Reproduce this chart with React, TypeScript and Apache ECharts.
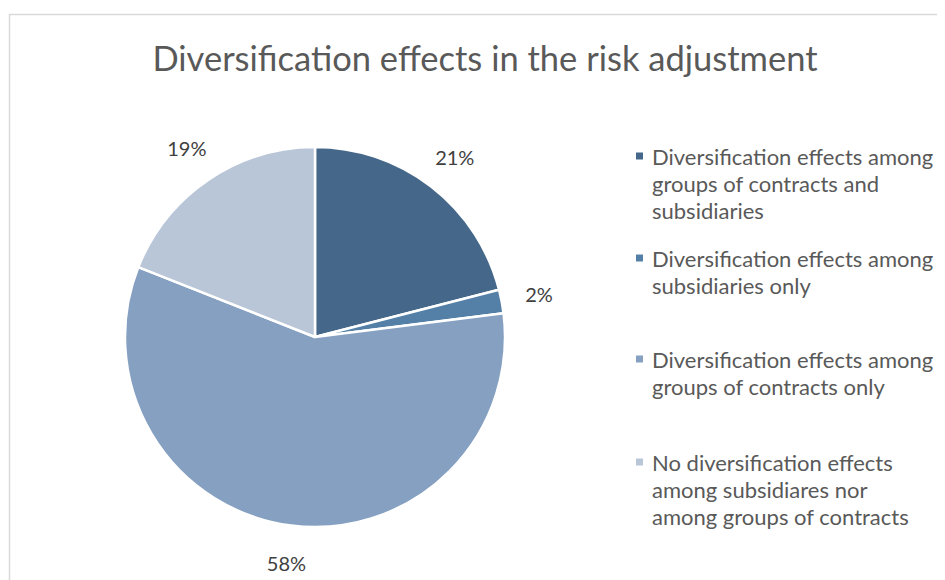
import React, { useEffect, useRef } from "react";
import * as echarts from "echarts";

const titleText = "Diversification effects in the risk adjustment";
const categories = [
  "Diversification effects among\ngroups of contracts and\nsubsidiaries",
  "Diversification effects among\nsubsidiaries only",
  "Diversification effects among\ngroups of contracts only",
  "No diversification effects\namong subsidiares nor\namong groups of contracts",
];
const values = [21, 2, 58, 19];
const colors = ["#45678a", "#5480a8", "#86a0c2", "#b9c6d8"];
const legendTops = [134.5, 236.5, 337.5, 440.5];

const FONT = "Lato";
const LINE_H = 27;

export default function App() {
  const ref = useRef<HTMLDivElement>(null);
  useEffect(() => {
    if (!ref.current) return;
    const chart = echarts.init(ref.current, undefined, { renderer: "svg" });
    const data = categories.map((name, i) => ({
      name,
      value: values[i],
      itemStyle: { color: colors[i] },
    }));
    const legends = categories.map((name, i) => {
      const n = name.split("\n").length;
      const h = (n - 1) * LINE_H + 9;
      return {
        data: [name],
        orient: "vertical",
        left: 626,
        top: legendTops[i],
        padding: 0,
        icon: `path://M0,0H9V9H0Z M12,${h}L12,${h}`,
        itemWidth: 12,
        itemHeight: h,
        selectedMode: false,
        textStyle: {
          fontFamily: FONT,
          fontSize: 22,
          color: "#595959",
          lineHeight: LINE_H,
        },
      };
    });
    chart.setOption({
      animation: false,
      title: {
        text: titleText,
        left: 477,
        top: 32,
        padding: 0,
        textAlign: "center",
        textStyle: {
          fontFamily: FONT,
          fontSize: 34.5,
          fontWeight: "normal",
          color: "#595959",
        },
      },
      legend: legends,
      graphic: [
        {
          type: "rect",
          shape: { x: 1.5, y: 6.5, width: 2000, height: 2000 },
          style: { fill: "none", stroke: "#d9d9d9", lineWidth: 1.5 },
          silent: true,
        },
      ],
      series: [
        {
          type: "pie",
          center: [307, 329],
          radius: 190,
          startAngle: 90,
          clockwise: true,
          silent: true,
          label: { show: false },
          labelLine: { show: false },
          itemStyle: { borderColor: "#ffffff", borderWidth: 2.5 },
          emphasis: { disabled: true },
          data,
        },
        {
          type: "pie",
          center: [307, 329],
          radius: [190, 260],
          startAngle: 90,
          clockwise: true,
          silent: true,
          itemStyle: { color: "transparent", borderWidth: 0 },
          labelLine: { show: false },
          emphasis: { disabled: true },
          label: {
            show: true,
            position: "inside",
            formatter: (p: any) => p.value + "%",
            fontFamily: FONT,
            fontSize: 20,
            color: "#404040",
            textBorderWidth: 0,
          },
          data: categories.map((name, i) => ({ name, value: values[i] })),
        },
      ],
    });
    return () => chart.dispose();
  }, []);
  return <div ref={ref} style={{ width: 937, height: 572 }} />;
}
